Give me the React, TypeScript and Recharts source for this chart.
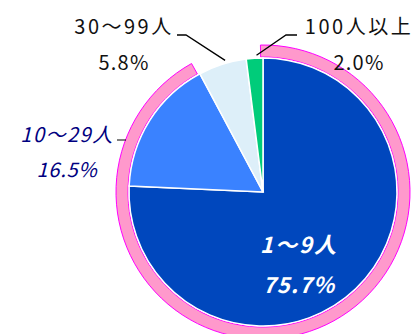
import { PieChart, Pie, Cell } from 'recharts'

const categories = ['1～9人', '10～29人', '30～99人', '100人以上']
const shares = [75.7, 16.5, 5.8, 2.0]
const sliceColors = ['#0047BD', '#3A82FF', '#DDEFF9', '#00CC7A']
// pink ring marks the 1～29人 group
const ringGroups = ['1～29人', '30人以上']
const ringShares = [75.7 + 16.5, 5.8 + 2.0]

const data = categories.map((name, i) => ({ name, value: shares[i] }))
const ringData = ringGroups.map((name, i) => ({ name, value: ringShares[i] }))

const CX = 263
const CY = 192
const R = 134
const RAD = Math.PI / 180

// where each label sits, and how it looks
const labelStyle = [
  { x: 299, y1: 253, y2: 293, color: '#fff', italic: true, size: 22, ls: 2, weight: 600 },
  { x: 67, y1: 142, y2: 177, color: '#000080', italic: true, size: 20, ls: 1.5, weight: 400 },
  { x: 124, y1: 34, y2: 70, color: '#111', italic: false, size: 20, ls: 2.5, weight: 400 },
  { x: 359, y1: 34, y2: 70, color: '#111', italic: false, size: 20, ls: 2.5, weight: 400 },
]

function renderLabel(props: any) {
  const { index, midAngle, cx, cy, outerRadius } = props
  const s = labelStyle[index]
  const ex = cx + (outerRadius + 1) * Math.cos(-midAngle * RAD)
  const ey = cy + (outerRadius + 1) * Math.sin(-midAngle * RAD)
  const font = {
    fontFamily: '"Noto Sans CJK JP", "Noto Sans", sans-serif',
    fontSize: s.size,
    fontWeight: s.weight,
    fontStyle: s.italic ? 'italic' : 'normal',
    fill: s.color,
  }
  return (
    <g key={'lbl' + index}>
      {index === 2 && (
        <polyline points={`177,35 186,35 ${ex + 3},${ey - 3}`} fill="none" stroke="#000" strokeWidth={1.3} />
      )}
      {index === 3 && (
        <polyline points={`297,35 286,35 ${ex + 2},${ey - 2}`} fill="none" stroke="#000" strokeWidth={1.3} />
      )}
      {index === 1 && <line x1={117} y1={140} x2={126} y2={140} stroke="#000" strokeWidth={1} />}
      <text x={s.x} y={s.y1} textAnchor="middle" letterSpacing={s.ls} {...font}>
        {categories[index]}
      </text>
      <text x={s.x} y={s.y2} textAnchor="middle" letterSpacing={s.ls / 2} {...font}>
        {shares[index].toFixed(1)}%
      </text>
    </g>
  )
}

export default function App() {
  return (
    <div style={{ position: 'absolute', left: 0, top: 0, width: 418, height: 334, background: '#fff' }}>
      <PieChart width={418} height={334} margin={{ top: 0, right: 0, bottom: 0, left: 0 }}>
        <Pie
          data={ringData}
          dataKey="value"
          cx={CX}
          cy={CY}
          innerRadius={R + 1}
          outerRadius={R + 13}
          startAngle={91}
          endAngle={-269}
          stroke="none"
          isAnimationActive={false}
        >
          {ringData.map((d, i) => (
            <Cell key={d.name} fill={i === 0 ? '#FF99CC' : 'none'} stroke={i === 0 ? '#FF00FF' : 'none'} strokeWidth={1} />
          ))}
        </Pie>
        <Pie
          data={data}
          dataKey="value"
          cx={CX}
          cy={CY}
          outerRadius={R}
          startAngle={90}
          endAngle={-270}
          stroke="#fff"
          strokeWidth={1.5}
          label={renderLabel}
          labelLine={false}
          isAnimationActive={false}
        >
          {data.map((d, i) => (
            <Cell key={d.name} fill={sliceColors[i]} />
          ))}
        </Pie>
      </PieChart>
    </div>
  )
}
